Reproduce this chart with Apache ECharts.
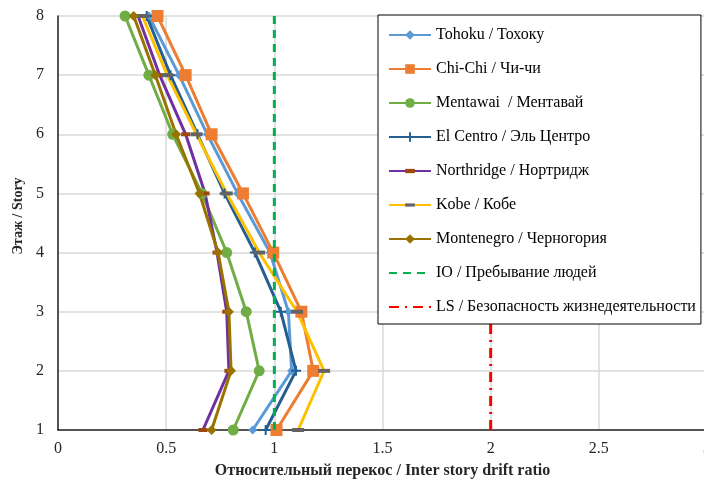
<!DOCTYPE html>
<html>
<head>
<meta charset="utf-8">
<script src="https://cdn.jsdelivr.net/npm/echarts@6/dist/echarts.min.js"></script>
<style>
html,body{margin:0;padding:0;background:#fff;}
#c{width:704px;height:482px;}
</style>
</head>
<body>
<div id="c"></div>
<script>
// Stories (y values)
var stories = [1, 2, 3, 4, 5, 6, 7, 8];
// Inter story drift ratio per story (story 1..8)
var tohoku     = [0.90, 1.08, 1.065, 0.98, 0.83, 0.69, 0.56, 0.42];
var chichi     = [1.01, 1.18, 1.125, 0.995, 0.855, 0.71, 0.59, 0.46];
var mentawai   = [0.81, 0.93, 0.87, 0.78, 0.665, 0.53, 0.42, 0.31];
var elcentro   = [0.96, 1.10, 1.03, 0.91, 0.77, 0.645, 0.52, 0.41];
var northridge = [0.67, 0.79, 0.78, 0.735, 0.68, 0.59, 0.47, 0.37];
var kobe       = [1.11, 1.23, 1.105, 0.93, 0.78, 0.64, 0.505, 0.39];
var montenegro = [0.71, 0.80, 0.79, 0.74, 0.654, 0.546, 0.45, 0.35];
// Limit lines
var ioLimit = 1;
var lsLimit = 2;
var names = {
  tohoku: 'Tohoku / Тохоку',
  chichi: 'Chi-Chi / Чи-чи',
  mentawai: 'Mentawai  / Ментавай',
  elcentro: 'El Centro / Эль Центро',
  northridge: 'Northridge / Нортридж',
  kobe: 'Kobe / Кобе',
  montenegro: 'Montenegro / Черногория',
  io: 'IO / Пребывание людей',
  ls: 'LS / Безопасность жизнедеятельности'
};
var xTitle = 'Относительный перекос / Inter story drift ratio';
var yTitle = 'Этаж / Story';

function pairs(vals){ return vals.map(function(v,i){ return [v, stories[i]]; }); }
function vline(x){ return [[x, stories[0]], [x, stories[stories.length-1]]]; }

var FONT = '"Liberation Serif", "Times New Roman", serif';

function lineSeries(name, vals, lineColor, symbol, size, symColor){
  return {
    name: name, type: 'line', data: pairs(vals),
    symbol: symbol, symbolSize: size, showSymbol: true,
    lineStyle: {color: lineColor, width: 3},
    itemStyle: {color: symColor || lineColor, borderWidth: 0},
    emphasis: {disabled: true},
    animation: false, z: 3
  };
}

var plus = 'path://M4,0H6V4H10V6H6V10H4V6H0V4H4Z';
// square bounding boxes with a thin centred bar inside
var dashSmall = 'path://M0,0M0,2.5H10V6.5H0ZM10,9';
var dashLong = 'path://M0,0M0,4H12V8H0ZM12,12';

var series = [
  lineSeries(names.tohoku, tohoku, '#5B9BD5', 'diamond', 9),
  lineSeries(names.chichi, chichi, '#ED7D31', 'rect', 12),
  lineSeries(names.mentawai, mentawai, '#70AD47', 'circle', 11),
  lineSeries(names.elcentro, elcentro, '#255E91', plus, 10),
  lineSeries(names.northridge, northridge, '#7030A0', dashSmall, 9, '#9E480E'),
  lineSeries(names.kobe, kobe, '#FFC000', dashLong, 12, '#636363'),
  lineSeries(names.montenegro, montenegro, '#997300', 'diamond', 10),
  {
    name: names.io, type: 'line', data: vline(ioLimit), symbol: 'none',
    lineStyle: {color: '#00B050', width: 3, type: [8, 6]},
    itemStyle: {color: '#00B050'}, animation: false, z: 4
  },
  {
    name: names.ls, type: 'line', data: vline(lsLimit), symbol: 'none',
    lineStyle: {color: '#FF0000', width: 3, type: [10, 6, 2, 6]},
    itemStyle: {color: '#FF0000'}, animation: false, z: 4
  }
];

var chart = echarts.init(document.getElementById('c'), null, {renderer: 'canvas'});
chart.setOption({
  backgroundColor: '#ffffff',
  animation: false,
  grid: {left: 58, right: -3, top: 16, bottom: 52, containLabel: false, outerBoundsMode: 'none'},
  xAxis: {
    type: 'value', min: 0, max: 3, interval: 0.5,
    name: xTitle, nameLocation: 'middle', nameGap: 33,
    nameTextStyle: {fontFamily: FONT, fontSize: 16, fontWeight: 'bold', color: '#262626'},
    axisLine: {show: true, onZero: false, lineStyle: {color: '#262626', width: 1.5}},
    axisTick: {show: false},
    axisLabel: {fontFamily: FONT, fontSize: 16, color: '#262626', margin: 11},
    splitLine: {show: true, lineStyle: {color: '#D9D9D9', width: 1.5}}
  },
  yAxis: {
    type: 'value', min: 1, max: 8, interval: 1,
    name: yTitle, nameLocation: 'middle', nameGap: 30, nameRotate: 90,
    nameTextStyle: {fontFamily: FONT, fontSize: 14, fontWeight: 'bold', color: '#262626', padding: [0, 0, 0, 14]},
    axisLine: {show: true, onZero: false, lineStyle: {color: '#262626', width: 1.5}},
    axisTick: {show: false},
    axisLabel: {fontFamily: FONT, fontSize: 16, color: '#262626', margin: 14},
    splitLine: {show: true, lineStyle: {color: '#D9D9D9', width: 1.5}}
  },
  legend: {
    orient: 'vertical', left: 378, top: 15,
    backgroundColor: '#ffffff', borderColor: '#000000', borderWidth: 1,
    padding: [12, 5, 9, 10],
    itemWidth: 42, itemHeight: 12, itemGap: 18,
    textStyle: {fontFamily: FONT, fontSize: 16, color: '#000000'},
    data: [names.tohoku, names.chichi, names.mentawai, names.elcentro, names.northridge, names.kobe, names.montenegro,
      {name: names.io, itemStyle: {opacity: 0}},
      {name: names.ls, itemStyle: {opacity: 0}}],
    selectedMode: false, z: 10
  },
  series: series
});
</script>
</body>
</html>
